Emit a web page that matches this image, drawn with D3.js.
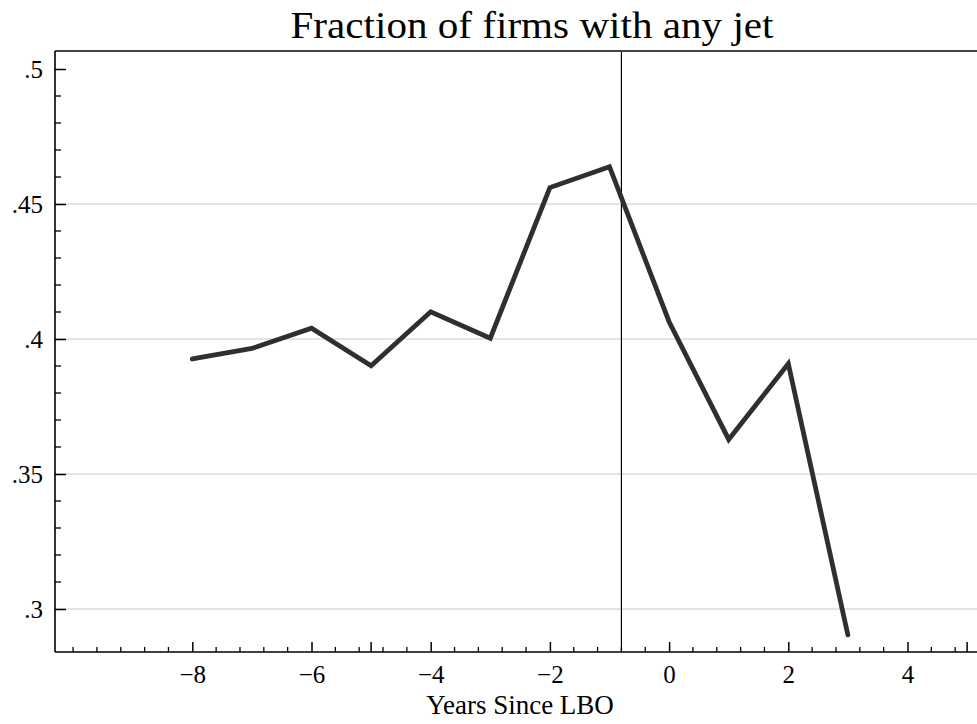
<!DOCTYPE html>
<html>
<head>
<meta charset="utf-8">
<script src="https://cdn.jsdelivr.net/npm/d3@7"></script>
<style>
  html, body { margin: 0; padding: 0; background: #fff; }
  svg { display: block; }
  text { font-family: "Liberation Serif", "Times New Roman", serif; fill: #000; }
</style>
</head>
<body>
<svg id="chart" width="977" height="724"></svg>
<script>
// Event-time series: share of firms operating any jet
const years = [-8, -7, -6, -5, -4, -3, -2, -1, 0, 1, 2, 3];
const fractionAnyJet = [0.3926, 0.3965, 0.4040, 0.3901, 0.4101, 0.4003, 0.4561, 0.4638, 0.4064, 0.3628, 0.3908, 0.2904];
const xTickValues = [-8, -6, -4, -2, 0, 2, 4];
const yTickValues = [0.3, 0.35, 0.4, 0.45, 0.5];
const yTickLabels = [".3", ".35", ".4", ".45", ".5"];
const gridValues = [0.3, 0.35, 0.4, 0.45];
const eventLine = -0.8;
const titleText = "Fraction of firms with any jet";
const xTitleText = "Years Since LBO";

const svg = d3.select("#chart");
const plotLeft = 55, plotTop = 51, plotBottom = 652, plotRight = 977;

const x = d3.scaleLinear().domain([-10, 4]).range([73.1, 907.5]);
const y = d3.scaleLinear().domain([0.3, 0.5]).range([609, 69]);

// gridlines
svg.append("g").selectAll("line").data(gridValues).join("line")
  .attr("x1", plotLeft).attr("x2", plotRight)
  .attr("y1", d => y(d)).attr("y2", d => y(d))
  .attr("stroke", "#c8c8c8").attr("stroke-width", 1);

// minor y ticks
const yMinor = d3.range(31, 50).map(v => v / 100).filter(v => Math.round(v * 100) % 5 !== 0);
svg.append("g").selectAll("line").data(yMinor).join("line")
  .attr("x1", plotLeft).attr("x2", plotLeft + 6)
  .attr("y1", d => y(d)).attr("y2", d => y(d))
  .attr("stroke", "#000").attr("stroke-width", 1.3);

// major y ticks + labels
const yAxis = d3.axisLeft(y).tickValues(yTickValues)
  .tickFormat((d, i) => yTickLabels[i]).tickSizeInner(-11).tickSizeOuter(0).tickPadding(12);
const gy = svg.append("g").attr("transform", `translate(${plotLeft},0)`).call(yAxis);
gy.select(".domain").remove();
gy.selectAll(".tick line").attr("stroke", "#000").attr("stroke-width", 1.5);
gy.selectAll(".tick text").style("font-size", "25px").attr("dy", "0.34em");

// minor x ticks every 0.4 years
const xMinor = d3.range(0, 38).map(i => -10 + i * 0.4)
  .filter(v => !xTickValues.some(t => Math.abs(t - v) < 1e-6));
svg.append("g").selectAll("line").data(xMinor).join("line")
  .attr("x1", d => x(d)).attr("x2", d => x(d))
  .attr("y1", plotBottom).attr("y2", plotBottom - 5)
  .attr("stroke", "#000").attr("stroke-width", 1.3);

// unlabelled long ticks at ±5
svg.append("g").selectAll("line").data([-5, 5]).join("line")
  .attr("x1", d => x(d)).attr("x2", d => x(d))
  .attr("y1", plotBottom).attr("y2", plotBottom - 10)
  .attr("stroke", "#000").attr("stroke-width", 1.5);

// major x ticks + labels
const xAxis = d3.axisBottom(x).tickValues(xTickValues)
  .tickFormat(d => d < 0 ? "\u2212" + Math.abs(d) : String(d))
  .tickSizeInner(-10).tickSizeOuter(0).tickPadding(14);
const gx = svg.append("g").attr("transform", `translate(0,${plotBottom})`).call(xAxis);
gx.select(".domain").remove();
gx.selectAll(".tick line").attr("stroke", "#000").attr("stroke-width", 1.5);
gx.selectAll(".tick text").style("font-size", "25px").attr("dy", "0.68em");

// event line
svg.append("line")
  .attr("x1", x(eventLine)).attr("x2", x(eventLine))
  .attr("y1", plotTop).attr("y2", plotBottom)
  .attr("stroke", "#000").attr("stroke-width", 1.2);

// frame: top border, left and bottom axes
svg.append("line").attr("x1", plotLeft).attr("x2", plotRight).attr("y1", plotTop).attr("y2", plotTop)
  .attr("stroke", "#444").attr("stroke-width", 1.8);
svg.append("line").attr("x1", plotLeft).attr("x2", plotLeft).attr("y1", plotTop).attr("y2", plotBottom)
  .attr("stroke", "#000").attr("stroke-width", 1.6);
svg.append("line").attr("x1", plotLeft).attr("x2", plotRight).attr("y1", plotBottom).attr("y2", plotBottom)
  .attr("stroke", "#000").attr("stroke-width", 1.6);

// series line
const line = d3.line().x((d, i) => x(years[i])).y(d => y(d));
svg.append("path").datum(fractionAnyJet)
  .attr("d", line)
  .attr("fill", "none").attr("stroke", "#2f2f2f").attr("stroke-width", 4.8)
  .attr("stroke-linejoin", "miter").attr("stroke-linecap", "round");

// titles
svg.append("text").attr("x", 532).attr("y", 38).attr("text-anchor", "middle")
  .style("font-size", "38px")
  .attr("textLength", 483).attr("lengthAdjust", "spacingAndGlyphs")
  .text(titleText);
svg.append("text").attr("x", 520).attr("y", 714).attr("text-anchor", "middle")
  .style("font-size", "27px").text(xTitleText);
</script>
</body>
</html>
